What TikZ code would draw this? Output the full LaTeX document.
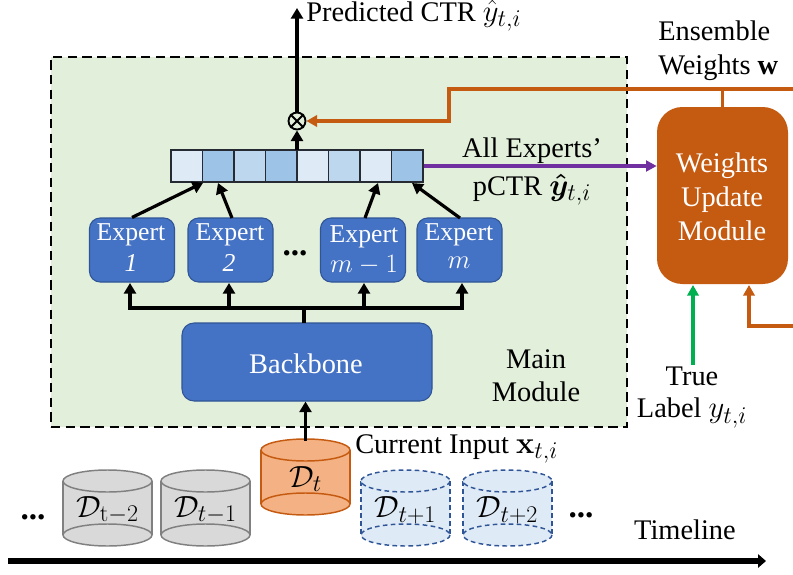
\documentclass[tikz,border=0pt]{standalone}
\usepackage{fix-cm}
\usepackage{amsmath,amssymb,bm}
\usepackage[no-math]{fontspec}
\setmainfont{Liberation Serif}
\usetikzlibrary{arrows.meta}
\DeclareMathSizes{21.3}{23}{18}{13}
\DeclareMathSizes{19.3}{20}{15}{11}
\definecolor{panelgreen}{HTML}{E2EFDA}
\definecolor{bluefill}{HTML}{4472C4}
\definecolor{blueedge}{HTML}{2F5597}
\definecolor{orangedark}{HTML}{C55A11}
\definecolor{orangelight}{HTML}{F4B183}
\definecolor{cellA}{HTML}{DEEAF6}
\definecolor{cellB}{HTML}{9DC3E6}
\definecolor{cellC}{HTML}{BDD7EE}
\definecolor{purpleline}{HTML}{7030A0}
\definecolor{greenline}{HTML}{00B050}
\definecolor{cellborder}{HTML}{262B33}
\newcommand\mainsize{\fontsize{21.3}{24}\selectfont}
\newcommand\expsize{\fontsize{19.3}{23}\selectfont}
\newcommand\dotsize{\fontsize{25}{25}\selectfont\bfseries}
\newcommand\cylinderdb[5]{%
  % #1 name, #2 left x, #3 top y, #4 style, #5 label
  \path[#4,draw=none] (#2,#3+11) -- (#2,#3+65) arc[start angle=180,end angle=360,x radius=44.5,y radius=11] -- (#2+89,#3+11) arc[start angle=0,end angle=180,x radius=44.5,y radius=11] -- cycle;
  \draw[#4,fill=none] (#2,#3+11) -- (#2,#3+65) (#2+89,#3+11) -- (#2+89,#3+65);
  \draw[#4] (#2+44.5,#3+11) ellipse[x radius=44.5,y radius=11];
  \draw[#4] (#2+44.5,#3+65) ellipse[x radius=44.5,y radius=11];
  \node[dblabel,minimum width=89*.75pt,minimum height=76*.75pt] (#1) at (#2+44.5,#3+40) {#5};
}
\tikzset{
  x=.75pt,y=-.75pt,
  txt/.style={font=\mainsize,inner sep=0pt,align=center,text=black},
  whitetxt/.style={inner sep=0pt,text=white,font=\expsize},
  panel/.style={draw=black,fill=panelgreen,line width=1.5pt,dash pattern=on 7pt off 4pt},
  expert/.style={draw=blueedge,fill=bluefill,line width=.8pt,rounded corners=8pt,minimum width=85*.75pt,minimum height=64*.75pt,inner sep=0pt},
  backbonebox/.style={draw=blueedge,fill=bluefill,line width=.8pt,rounded corners=9pt,minimum width=250*.75pt,minimum height=78*.75pt,inner sep=0pt,text=white,font=\mainsize},
  updatebox/.style={fill=orangedark,rounded corners=19pt,minimum width=131*.75pt,minimum height=177*.75pt,inner sep=0pt},
  cell/.style={draw=cellborder,line width=1pt,minimum width=31.5*.75pt,minimum height=32*.75pt,inner sep=0pt},
  blackarrow/.style={draw=black,line width=2.4pt,-{Triangle[length=8pt,width=9pt]}},
  blackline/.style={draw=black,line width=2.4pt},
  orangearrow/.style={draw=orangedark,line width=2.4pt,-{Triangle[length=8pt,width=8.5pt]}},
  orangeline/.style={draw=orangedark,line width=2.4pt},
  purplearrow/.style={draw=purpleline,line width=2.4pt,-{Triangle[length=8pt,width=8pt]}},
  greenarrow/.style={draw=greenline,line width=2.4pt,-{Triangle[length=8pt,width=8.5pt]}},
  timearrow/.style={draw=black,line width=4.8pt,-{Triangle[length=6pt,width=10pt]}},
  dblabel/.style={inner sep=0pt,font=\mainsize},
  dbgray/.style={draw=black!50,fill=black!15,line width=1.1pt},
  dborange/.style={draw=orangedark,fill=orangelight,line width=1.1pt},
  dbblue/.style={draw=blueedge,fill=cellA,line width=1.1pt,dash pattern=on 3.5pt off 2.5pt},
  dotsnode/.style={inner sep=0pt,font=\dotsize},
  otimesnode/.style={draw=black,line width=1.4pt,circle,minimum size=17*.75pt,inner sep=0pt},
}
\begin{document}
\begin{tikzpicture}
\useasboundingbox (0,0) rectangle (793,575);
% main panel
\node[panel,minimum width=576*.75pt,minimum height=370*.75pt,inner sep=0pt] (panel) at (339,242) {};
% vector of expert outputs
\foreach \n/\cx/\col in {1/186.75/cellA,2/218.25/cellB,3/249.75/cellC,4/281.25/cellB,5/312.75/cellA,6/344.25/cellC,7/375.75/cellA,8/407.25/cellB}
  \node[cell,fill=\col] (c\n) at (\cx,166) {};
% otimes
\node[otimesnode] (mul) at (297,121) {};
\draw[line width=1.4pt] (mul.north west) -- (mul.south east) (mul.north east) -- (mul.south west);
% experts
\node[expert] (e1) at (132,250) {};
\node[expert] (e2) at (230.5,250) {};
\node[expert] (e3) at (363,250) {};
\node[expert] (e4) at (459.5,250) {};
\node[whitetxt] (e1a) at (131,235) {Expert};
\node[whitetxt] (e1b) at (131,263) {\itshape 1};
\node[whitetxt] (e2a) at (230,235) {Expert};
\node[whitetxt] (e2b) at (229,263) {\itshape 2};
\node[whitetxt] (e3a) at (364,237) {Expert};
\node[whitetxt] (e3b) at (364,265) {$m-1$};
\node[whitetxt] (e4a) at (459,235) {Expert};
\node[whitetxt] (e4b) at (459,263) {$m$};
\node[dotsnode] (dotsmid) at (295,253) {...};
% backbone
\node[backbonebox] (backbone) at (307,362) {};
\node[txt,text=white] (backbonetxt) at (306,364) {Backbone};
\node[txt] (mainmod) at (536,359) {Main};
\node[txt] (mainmod2) at (536,392) {Module};
% update module
\node[updatebox] (update) at (722.5,195.5) {};
\node[txt,text=white] (up1) at (722,166) {Weights};
\node[txt,text=white] (up2) at (722,200) {Update};
\node[txt,text=white] (up3) at (722,231) {Module};
% top labels
\coordinate (topend) at (297,8);
\node[txt,anchor=west] (pred) at (306,16) {Predicted CTR $\hat{y}_{t,i}$};
\node[txt,anchor=west] (ens) at (658,31) {Ensemble};
\node[txt,anchor=west] (wgt) at (658,68) {Weights \textbf{w}};
\node[txt] (allexp) at (532,151) {All Experts’};
\node[txt] (pctr) at (532,190) {pCTR $\bm{\hat{y}}_{t,i}$};
\node[txt] (truelab) at (692,376) {True};
\node[txt] (lablab) at (692,413) {Label $y_{t,i}$};
\node[txt,anchor=west] (curr) at (355,449) {Current Input $\mathbf{x}_{t,i}$};
\node[txt] (timelab) at (685,530) {Timeline};
% cylinders
\cylinderdb{dm2}{63}{470}{dbgray}{$\mathcal{D}_{\mathrm{t-2}}$}
\cylinderdb{dm1}{161}{470}{dbgray}{$\mathcal{D}_{t-1}$}
\cylinderdb{dt}{261}{439}{dborange}{$\mathcal{D}_{t}$}
\cylinderdb{dp1}{361}{470}{dbblue}{$\mathcal{D}_{t+1}$}
\cylinderdb{dp2}{463}{470}{dbblue}{$\mathcal{D}_{t+2}$}
\node[dotsnode] (dotsl) at (33,517) {...};
\node[dotsnode] (dotsr) at (581,515) {...};
% timeline
\coordinate (tl0) at (8,561);
\coordinate (tl1) at (766,561);
\draw[timearrow] (tl0) -- (tl1);
% connectors: black
\draw[blackarrow] (dt.north) -- (backbone.south -| dt.north);
\coordinate (busL) at (130,308);
\coordinate (busR) at (462,308);
\coordinate (busM) at (304,308);
\draw[blackline] (busM) -- (304,323);
\draw[blackarrow] (busM) -- (busL) -- (130,283);
\draw[blackarrow] (busM) -- (busR) -- (462,283);
\draw[blackarrow] (229,308) -- (229,283);
\draw[blackarrow] (364,308) -- (364,283);
\draw[blackarrow] (e1.north) -- (c1.south east);
\draw[blackarrow] (232,218) -- (218,183);
\draw[blackarrow] (365,218) -- (378,183);
\draw[blackarrow] (460,218) -- (412,183);
\draw[blackarrow] (297,150) -- (mul.south);
\draw[blackarrow] (mul.north) -- (topend);
% connectors: coloured
\coordinate (wr) at (793,89);
\coordinate (wk1) at (449,89);
\coordinate (wk2) at (449,121);
\draw[orangearrow] (wr) -- (wk1) -- (wk2) -- (mul.east);
\draw[orangeline] (update.north) -- (722.5,89);
\draw[purplearrow] (c8.east) -- (c8.east -| update.west);
\coordinate (gr0) at (693,365);
\draw[greenarrow] (gr0) -- (693,285);
\coordinate (fb0) at (793,326);
\coordinate (fb1) at (749,326);
\draw[orangearrow] (fb0) -- (fb1) -- (749,285);
\end{tikzpicture}
\end{document}
